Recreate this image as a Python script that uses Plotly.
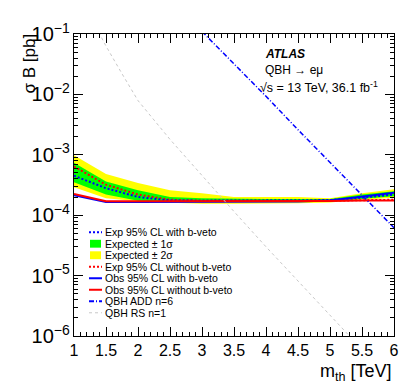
import plotly.graph_objects as go

# mass points [TeV]
mass = [1.0, 1.5, 2.0, 2.5, 3.0, 3.5, 4.0, 4.5, 5.0, 5.5, 6.0]

exp_bveto = [4.5e-4, 2.8e-4, 2.0e-4, 1.75e-4, 1.74e-4, 1.74e-4, 1.74e-4, 1.74e-4, 1.78e-4, 1.95e-4, 2.2e-4]
exp_nobveto = [6.4e-4, 3.2e-4, 2.2e-4, 1.8e-4, 1.74e-4, 1.72e-4, 1.72e-4, 1.72e-4, 1.74e-4, 1.77e-4, 1.8e-4]
band1_lo = [3.5e-4, 2.2e-4, 1.74e-4, 1.68e-4, 1.66e-4, 1.66e-4, 1.66e-4, 1.66e-4, 1.68e-4, 1.88e-4, 2.05e-4]
band1_hi = [7.4e-4, 3.6e-4, 2.6e-4, 2.0e-4, 1.9e-4, 1.85e-4, 1.85e-4, 1.85e-4, 1.85e-4, 2.2e-4, 2.5e-4]
band2_lo = [2.9e-4, 1.9e-4, 1.7e-4, 1.6e-4, 1.55e-4, 1.55e-4, 1.55e-4, 1.58e-4, 1.62e-4, 1.8e-4, 1.95e-4]
band2_hi = [9.8e-4, 4.8e-4, 3.4e-4, 2.6e-4, 2.3e-4, 2.0e-4, 2.0e-4, 2.0e-4, 1.9e-4, 2.3e-4, 2.7e-4]
obs_bveto = [2.15e-4, 1.65e-4, 1.65e-4, 1.65e-4, 1.65e-4, 1.65e-4, 1.65e-4, 1.68e-4, 1.75e-4, 2.0e-4, 2.35e-4]
obs_nobveto = [2.25e-4, 1.7e-4, 1.7e-4, 1.7e-4, 1.7e-4, 1.7e-4, 1.7e-4, 1.7e-4, 1.72e-4, 1.75e-4, 1.75e-4]

# theory curves
mass_add = [3.0, 3.5, 4.0, 4.5, 5.0, 5.5, 6.0]
xs_add = [0.11, 0.032, 9.3e-3, 2.6e-3, 7.6e-4, 2.15e-4, 6.2e-5]
mass_rs = [1.3, 1.4, 1.5, 1.75, 2.0, 2.5, 3.0, 3.5, 4.0, 4.5, 5.0, 5.5]
xs_rs = [0.16, 0.098, 0.063, 0.022, 7.9e-3, 1.8e-3, 4.5e-4, 1.15e-4, 3.0e-5, 8.3e-6, 2.3e-6, 6e-7]

BLUE = "#0000ff"
RED = "#ff0000"
GREEN = "#00ff00"
YELLOW = "#ffff00"
GREY = "#c8c8c8"

DOT = "2px,2px"
DASHDOT = "5px,2px,1px,2px"
DASH = "3px,3px"

W, H = 407, 391
L, R, T, B = 66, 21, 21, 63
PW, PH = W - L - R, H - T - B


def px(x):
    return (x - L) / PW


def py(y):
    return (H - B - y) / PH


fig = go.Figure()

band_x = mass + mass[::-1]
fig.add_trace(go.Scatter(x=band_x, y=band2_hi + band2_lo[::-1], fill="toself", fillcolor=YELLOW,
                         line=dict(width=0), mode="lines", hoverinfo="skip"))
fig.add_trace(go.Scatter(x=band_x, y=band1_hi + band1_lo[::-1], fill="toself", fillcolor=GREEN,
                         line=dict(width=0), mode="lines", hoverinfo="skip"))
fig.add_trace(go.Scatter(x=mass, y=exp_nobveto, mode="lines", line=dict(color=RED, width=2, dash=DOT)))
fig.add_trace(go.Scatter(x=mass, y=exp_bveto, mode="lines", line=dict(color=BLUE, width=2, dash=DOT)))
fig.add_trace(go.Scatter(x=mass, y=obs_bveto, mode="lines", line=dict(color=BLUE, width=2)))
fig.add_trace(go.Scatter(x=mass, y=obs_nobveto, mode="lines", line=dict(color=RED, width=2)))
fig.add_trace(go.Scatter(x=mass_add, y=xs_add, mode="lines", line=dict(color=BLUE, width=1.5, dash=DASHDOT)))
fig.add_trace(go.Scatter(x=mass_rs, y=xs_rs, mode="lines", line=dict(color=GREY, width=1, dash=DASH)))

# hand-made legend (ROOT style, tight rows)
legend_rows = [
    ("Exp 95% CL with b-veto", "line", BLUE, DOT),
    ("Expected ± 1σ", "box", GREEN, None),
    ("Expected ± 2σ", "box", YELLOW, None),
    ("Exp 95% CL without b-veto", "line", RED, DOT),
    ("Obs 95% CL with b-veto", "line", BLUE, "solid"),
    ("Obs 95% CL without b-veto", "line", RED, "solid"),
    ("QBH ADD n=6", "line", BLUE, DASHDOT),
    ("QBH RS n=1", "line", GREY, DASH),
]
y0, dy = 222.5, 11.7
for i, (label, kind, color, dash) in enumerate(legend_rows):
    yc = y0 + i * dy
    if kind == "box":
        fig.add_shape(type="rect", xref="paper", yref="paper", x0=px(82), x1=px(93),
                      y0=py(yc + 4), y1=py(yc - 4), fillcolor=color, line=dict(width=0))
    else:
        fig.add_shape(type="line", xref="paper", yref="paper", x0=px(81), x1=px(94),
                      y0=py(yc), y1=py(yc), line=dict(color=color, width=2 if dash != DASH else 1, dash=dash))
    fig.add_annotation(x=px(95), y=py(yc), xref="paper", yref="paper", text=label, showarrow=False,
                       xanchor="left", yanchor="middle", font=dict(size=10.5, color="black"))

fig.add_annotation(x=px(255), y=py(41), xref="paper", yref="paper", text="<b><i>ATLAS</i></b>",
                   showarrow=False, xanchor="left", yanchor="middle", font=dict(size=12, color="black"))
fig.add_annotation(x=px(255), y=py(58), xref="paper", yref="paper", text="QBH → eμ",
                   showarrow=False, xanchor="left", yanchor="middle", font=dict(size=12, color="black"))
fig.add_annotation(x=px(250), y=py(75), xref="paper", yref="paper",
                   text="√s = 13 TeV, 36.1 fb<sup>-1</sup>",
                   showarrow=False, xanchor="left", yanchor="middle", font=dict(size=12.5, color="black"))

# axis titles
fig.add_annotation(x=px(33), y=py(19), xref="paper", yref="paper", text="σ B [pb]", textangle=-90,
                   showarrow=False, xanchor="right", yanchor="top", font=dict(size=17, color="black"))
fig.add_annotation(x=1.0, y=py(365), xref="paper", yref="paper", text="m<sub>th</sub> [TeV]",
                   showarrow=False, xanchor="right", yanchor="middle", font=dict(size=18, color="black"))

fig.update_layout(
    width=W, height=H,
    margin=dict(l=L, r=R, t=T, b=B),
    paper_bgcolor="white", plot_bgcolor="white",
    font=dict(family="Liberation Sans, Arial, sans-serif", color="black"),
    showlegend=False,
    xaxis=dict(range=[1, 6], dtick=0.5, ticks="inside", ticklen=9, tickwidth=1, tickcolor="black",
               showline=True, linecolor="black", mirror="ticks", showgrid=False,
               zeroline=False, tickfont=dict(size=16),
               minor=dict(dtick=0.1, ticks="inside", ticklen=4, tickcolor="black")),
    yaxis=dict(type="log", range=[-6, -1], dtick=1, exponentformat="power",
               ticks="inside", ticklen=9, tickwidth=1, tickcolor="black",
               showline=True, linecolor="black", mirror="ticks", showgrid=False,
               tickfont=dict(size=16),
               minor=dict(ticks="inside", ticklen=4, tickcolor="black")),
)

fig.write_html("out.html")
